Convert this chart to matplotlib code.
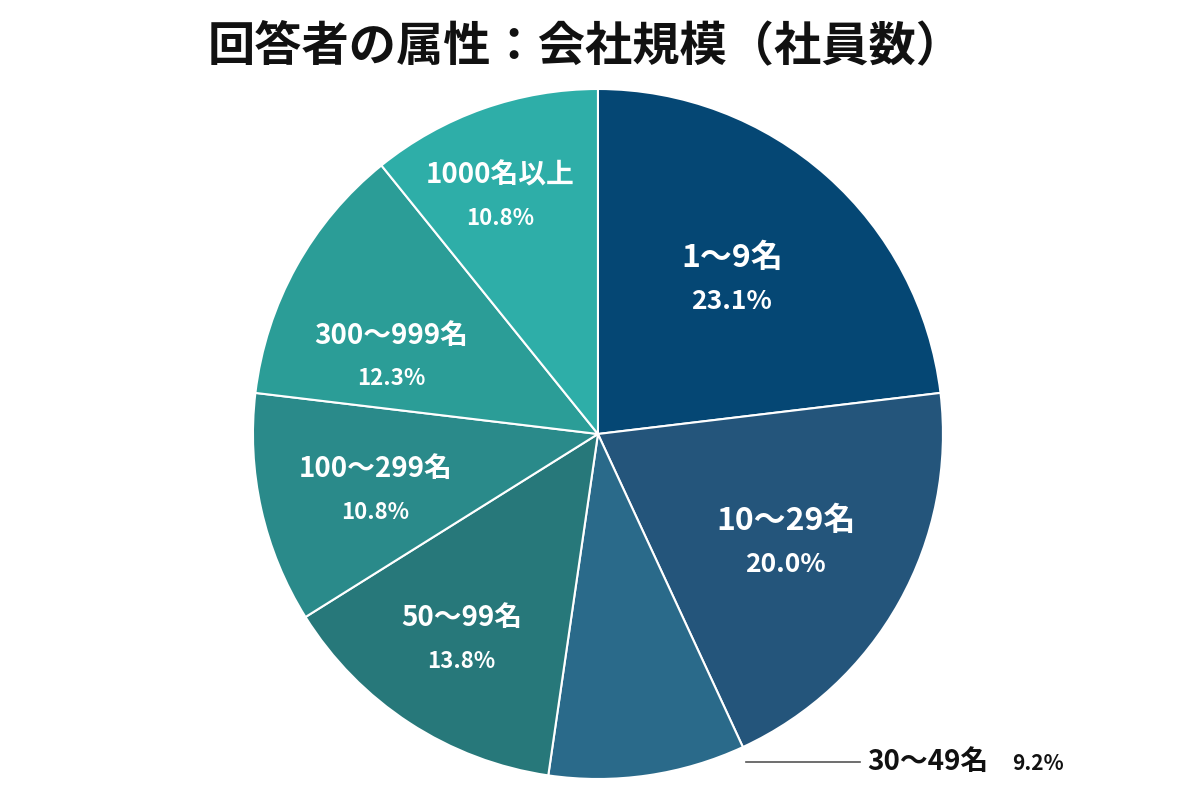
import matplotlib
matplotlib.use("Agg")
import matplotlib.pyplot as plt
import numpy as np

plt.rcParams['font.family'] = ['Noto Sans CJK JP', 'DejaVu Sans']

categories = ["1～9名", "10～29名", "30～49名", "50～99名", "100～299名", "300～999名", "1000名以上"]
values = [23.1, 20.0, 9.2, 13.8, 10.8, 12.3, 10.8]
colors = ["#054774", "#24557b", "#2a6a8a", "#27787a", "#2a8a8a", "#2b9d97", "#2eaea8"]

fig = plt.figure(figsize=(12, 7.98), dpi=100)
fig.text(0.488, 0.942, "回答者の属性：会社規模（社員数）", ha="center", va="center",
         fontsize=34, fontweight="bold", color="#111111")
ax = fig.add_axes([0.2108, 0.0238, 0.575, 0.8647])
wedges, _ = ax.pie(values, colors=colors, startangle=90, counterclock=False,
                   wedgeprops=dict(edgecolor="white", linewidth=1.5))
ax.set_xlim(-1, 1); ax.set_ylim(-1, 1)

# small per-label nudges (in pie-radius units)
nudges = {0: (-0.01, 0.0), 1: (0.02, -0.02), 3: (-0.04, -0.05), 4: (-0.01, -0.02),
          5: (-0.03, -0.09), 6: (-0.05, 0.0)}
cum = np.cumsum([0] + values[:-1])
for i, (cat, v) in enumerate(zip(categories, values)):
    if i == 2:
        ax.plot([0.43, 0.76], [-0.95, -0.95], color="#555555", lw=1.2, clip_on=False)
        ax.text(0.78, -0.95, cat, ha="left", va="center", fontsize=20, fontweight="bold",
                color="#111111", clip_on=False)
        ax.text(1.2, -0.955, f"{v:.1f}%", ha="left", va="center", fontsize=15,
                fontweight="bold", color="#111111", clip_on=False)
        continue
    ang = np.deg2rad(90 - (cum[i] + v / 2) * 3.6)
    r = 0.6 if i < 2 else (0.7 if i == 6 else 0.65)
    dx, dy = nudges.get(i, (0, 0))
    x, y = r * np.cos(ang) + dx, r * np.sin(ang) + dy
    if i == 6:
        y += 0.03
    fs = 23 if i < 2 else 20
    ax.text(x, y + 0.06, cat, ha="center", va="center", fontsize=fs, fontweight="bold", color="white")
    ax.text(x, y - 0.065, f"{v:.1f}%", ha="center", va="center", fontsize=fs - 4,
            fontweight="bold", color="white")

fig.savefig("out.png", dpi=100)
